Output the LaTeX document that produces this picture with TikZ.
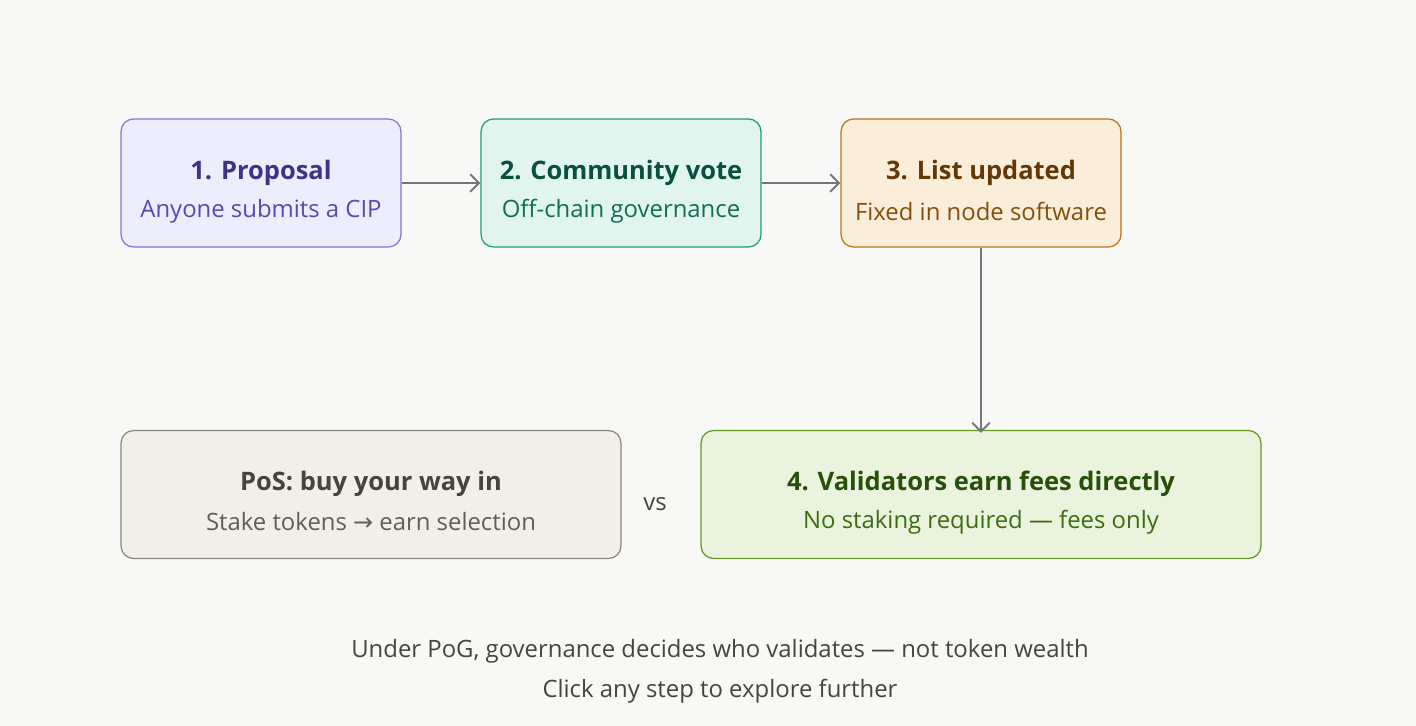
\documentclass[tikz,border=0pt]{standalone}
\usepackage{fontspec}
\setmainfont{Open Sans}
\newfontfamily\symfont{DejaVu Sans}
\usetikzlibrary{arrows.meta}
\definecolor{bg}{HTML}{F8F8F6}
\definecolor{pfill}{HTML}{EEEDFE}\definecolor{pdraw}{HTML}{7F77DD}\definecolor{ptitle}{HTML}{3C3489}\definecolor{psub}{HTML}{534AB7}
\definecolor{gfill}{HTML}{E1F5EE}\definecolor{gdraw}{HTML}{1D9E75}\definecolor{gtitle}{HTML}{085041}\definecolor{gsub}{HTML}{0F6E56}
\definecolor{ofill}{HTML}{FAEEDA}\definecolor{odraw}{HTML}{BA7517}\definecolor{otitle}{HTML}{633806}\definecolor{osub}{HTML}{854F0B}
\definecolor{nfill}{HTML}{F1EFE8}\definecolor{ndraw}{HTML}{888780}\definecolor{ntitle}{HTML}{444441}\definecolor{nsub}{HTML}{5F5E5A}
\definecolor{lfill}{HTML}{EAF3DE}\definecolor{ldraw}{HTML}{639922}\definecolor{ltitle}{HTML}{27500A}\definecolor{lsub}{HTML}{3B6D11}
\definecolor{arr}{HTML}{777777}
\begin{document}
\begin{tikzpicture}[x=0.02cm,y=-0.02cm,
  stepbox/.style={draw,line width=0.7pt,rounded corners=0.25cm,minimum height=2.56cm,align=center,inner sep=0pt},
  ttl/.style={font=\fontsize{14.5}{17}\selectfont\bfseries},
  sub/.style={font=\fontsize{13.6}{16}\selectfont},
  flow/.style={draw=arr,line width=1.1pt,-{Straight Barb[length=5pt,width=10pt]}}]
\fill[bg] (0,0) rectangle (1416,726);
\node[stepbox,fill=pfill,draw=pdraw,minimum width=5.6cm] (prop) at (261,183) {};
\node[ttl,text=ptitle] at (261,173) {1. Proposal};
\node[sub,text=psub] at (261,211) {Anyone submits a CIP};
\node[stepbox,fill=gfill,draw=gdraw,minimum width=5.6cm] (vote) at (621,183) {};
\node[ttl,text=gtitle] at (621,173) {2. Community vote};
\node[sub,text=gsub] at (621,211) {Off-chain governance};
\node[stepbox,fill=ofill,draw=odraw,minimum width=5.6cm] (list) at (981,183) {};
\node[ttl,text=otitle] at (981,173) {3. List updated};
\node[sub,text=osub] at (981,211) {Fixed in node software};
\node[stepbox,fill=nfill,draw=ndraw,minimum width=10cm] (pos) at (371,494.5) {};
\node[ttl,text=ntitle] at (371,484) {PoS: buy your way in};
\node[sub,text=nsub] at (371,522) {Stake tokens {\symfont →} earn selection};
\node[stepbox,fill=lfill,draw=ldraw,minimum width=11.2cm] (valid) at (981,494.5) {};
\node[ttl,text=ltitle] at (981,484) {4. Validators earn fees directly};
\node[sub,text=lsub] at (981,522) {No staking required --- fees only};
\node[sub,text=ntitle] (vs) at (655,504) {vs};
\draw[flow] (prop) -- (vote);
\draw[flow] (vote) -- (list);
\draw[flow] (list.south) -- ([yshift=-0.06cm]valid.north);
\node[sub,text=ntitle] (note) at (720,651) {Under PoG, governance decides who validates --- not token wealth};
\node[sub,text=ntitle] (hint) at (720,691) {Click any step to explore further};
\end{tikzpicture}
\end{document}
